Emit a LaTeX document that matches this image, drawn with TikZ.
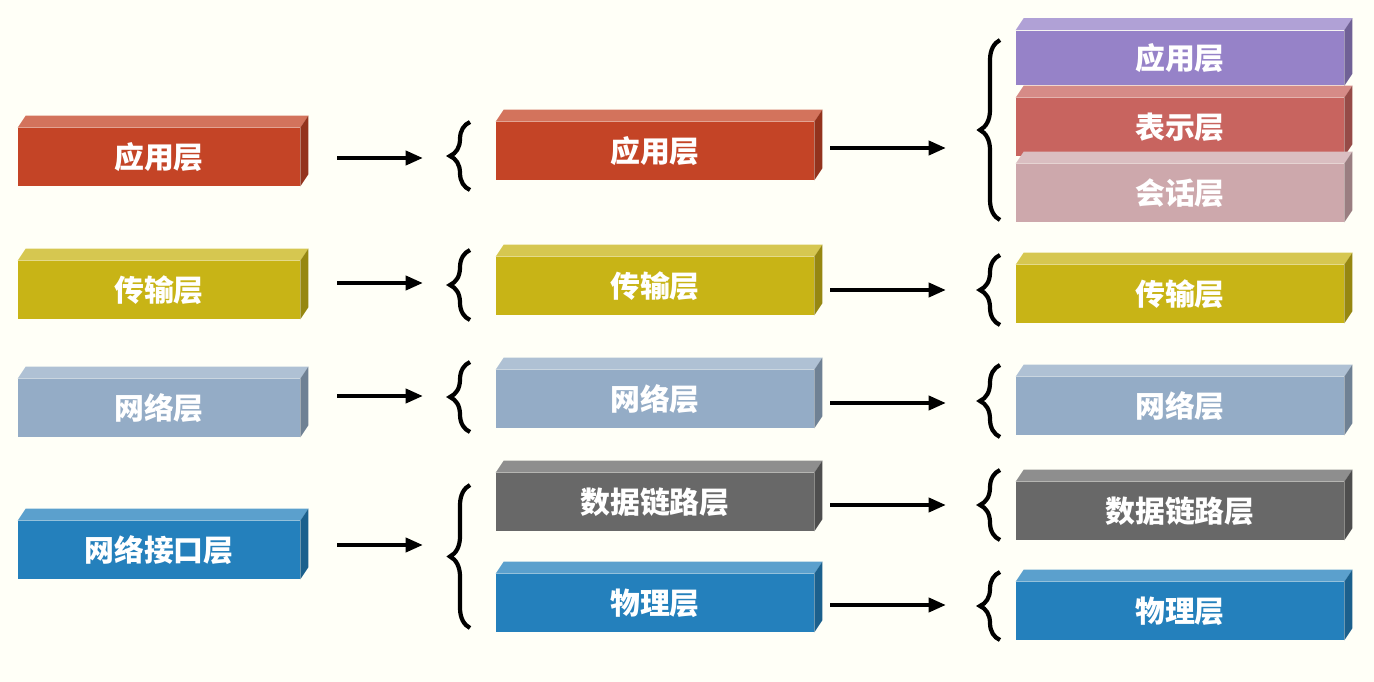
\documentclass[tikz,border=0pt]{standalone}
\usepackage{fontspec}
\setmainfont{Noto Sans CJK SC}
\usetikzlibrary{decorations.pathreplacing,arrows.meta}

\definecolor{appred}{RGB}{196,68,38}
\definecolor{tpyellow}{RGB}{200,180,22}
\definecolor{netgray}{RGB}{148,172,198}
\definecolor{ifblue}{RGB}{36,128,188}
\definecolor{dlgray}{RGB}{104,104,104}
\definecolor{appurple}{RGB}{150,130,200}
\definecolor{preprose}{RGB}{200,100,95}
\definecolor{sespink}{RGB}{205,168,172}

\tikzset{
  slab/.style={fill=#1, minimum height=1.16cm, inner sep=0pt, text=white,
    font=\bfseries\fontsize{17}{17}\selectfont},
  arr/.style={-{Triangle[length=3.5mm,width=2.8mm]}, line width=2.4pt},
  brc/.style={decorate, decoration={brace, amplitude=4mm, mirror}, line width=2.4pt}
}

% \slab{name}{cx}{cy}{width}{colour}{text}
\newcommand{\slab}[6]{%
  \node[slab=#5, minimum width=#4] (#1) at (#2,#3) {#6};
  \fill[#5!75!white] (#1.north west) -- ++(8,-12) -- ([shift={(8,-12)}]#1.north east) -- (#1.north east) -- cycle;
  \fill[#5!75!black] (#1.north east) -- ++(8,-12) -- ([shift={(8,-12)}]#1.south east) -- (#1.south east) -- cycle;
}

\begin{document}
\begin{tikzpicture}[x=0.02cm, y=-0.02cm]
\fill[white!97!yellow] (0,0) rectangle (1374,682);
\useasboundingbox (0,0) rectangle (1374,682);

% first column
\slab{a1}{159}{157}{5.64cm}{appred}{应用层}
\slab{a2}{159}{290}{5.64cm}{tpyellow}{传输层}
\slab{a3}{159}{408}{5.64cm}{netgray}{网络层}
\slab{a4}{159}{550}{5.64cm}{ifblue}{网络接口层}

% second column
\slab{b1}{655}{151}{6.36cm}{appred}{应用层}
\slab{b2}{655}{286}{6.36cm}{tpyellow}{传输层}
\slab{b3}{655}{399}{6.36cm}{netgray}{网络层}
\slab{b4}{655}{502}{6.36cm}{dlgray}{数据链路层}
\slab{b5}{655}{603}{6.36cm}{ifblue}{物理层}

% third column
\node[slab=appurple, minimum width=6.56cm, minimum height=1.1cm] (c1) at (1180,58) {应用层};
\fill[appurple!75!white] (c1.north west) -- ++(8,-12) -- ([shift={(8,-12)}]c1.north east) -- (c1.north east) -- cycle;
\fill[appurple!75!black] (c1.north east) -- ++(8,-12) -- ([shift={(8,-12)}]c1.south east) -- (c1.south east) -- cycle;
\slab{c2}{1180}{127}{6.56cm}{preprose}{表示层}
\slab{c3}{1180}{193}{6.56cm}{sespink}{会话层}
\slab{c4}{1180}{294}{6.56cm}{tpyellow}{传输层}
\slab{c5}{1180}{406}{6.56cm}{netgray}{网络层}
\slab{c6}{1180}{511}{6.56cm}{dlgray}{数据链路层}
\slab{c7}{1180}{611}{6.56cm}{ifblue}{物理层}

% braces
\draw[brc] (470,122) -- (470,190);
\draw[brc] (470,250) -- (470,320);
\draw[brc] (470,362) -- (470,432);
\draw[brc] (470,485) -- (470,628);
\draw[brc] (1000,40) -- (1000,220);
\draw[brc] (1000,255) -- (1000,325);
\draw[brc] (1000,365) -- (1000,437);
\draw[brc] (1000,470) -- (1000,540);
\draw[brc] (1000,572) -- (1000,640);

% arrow ends
\foreach \n/\y in {1/158,2/283,3/396,4/545}{
  \coordinate (p\n) at (337,\y);
  \coordinate (q\n) at (423,\y);
  \draw[arr] (p\n) -- (q\n);
}
\foreach \n/\y in {1/148,2/290,3/403,4/505,5/605}{
  \coordinate (r\n) at (830,\y);
  \coordinate (s\n) at (946,\y);
  \draw[arr] (r\n) -- (s\n);
}
\end{tikzpicture}
\end{document}
